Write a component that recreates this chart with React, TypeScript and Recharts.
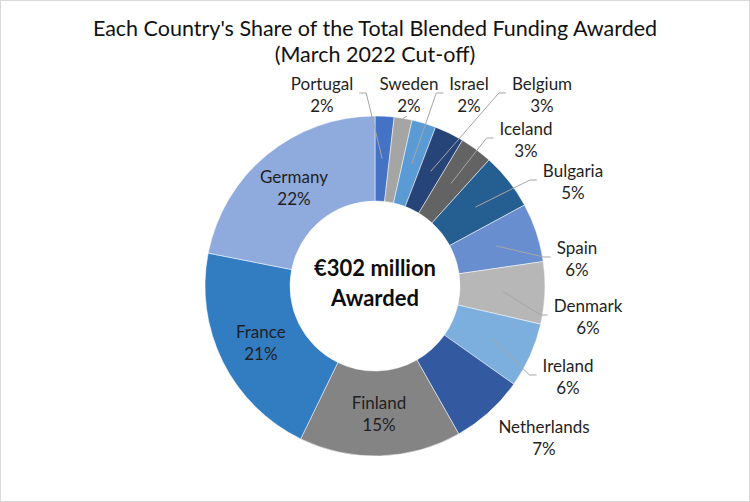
import React from 'react';
import { PieChart, Pie, Cell } from 'recharts';

const countries = ['Portugal', 'Sweden', 'Israel', 'Belgium', 'Iceland', 'Bulgaria', 'Spain', 'Denmark', 'Ireland', 'Netherlands', 'Finland', 'France', 'Germany'];
const shares = [1.8, 1.7, 2.3, 2.8, 3.1, 5.4, 5.6, 5.9, 6.2, 7.0, 15.4, 20.9, 21.9];
const colors = ['#4472C4', '#A5A5A5', '#5B9BD5', '#264478', '#636363', '#255E91', '#698ED0', '#B7B7B7', '#7CAFDD', '#335AA1', '#848484', '#327DC2', '#8FAADC'];
const titleLines = ["Each Country's Share of the Total Blended Funding Awarded", '(March 2022 Cut-off)'];
const centerLines = ['€302 million', 'Awarded'];

// where each data label sits, relative to the pie centre (inside = middle of the ring)
const labelPlacement: any[] = [
  { dx: -53, dy: -192, line: 'right' },
  { dx: 34, dy: -192, line: 'stub' },
  { dx: 94, dy: -192, line: 'left' },
  { dx: 167, dy: -192, line: 'left' },
  { dx: 151, dy: -147, line: 'left' },
  { dx: 198, dy: -105, line: 'left' },
  { dx: 202, dy: -28, line: 'left' },
  { dx: 213, dy: 30, line: 'left' },
  { dx: 193, dy: 90, line: 'left' },
  { dx: 169, dy: 151, line: 'none' },
  { inside: true },
  { inside: true },
  { inside: true },
];

const data = countries.map((name, i) => ({ name, value: shares[i] }));

const FONT = 'Lato, "Open Sans", sans-serif';
const LABEL_SIZE = 17;
const RAD = Math.PI / 180;

let ctx: any = null;
const textWidth = (t: string) => {
  if (!ctx) ctx = document.createElement('canvas').getContext('2d');
  ctx.font = `${LABEL_SIZE}px Lato`;
  return ctx.measureText(t).width;
};

const renderLabel = (props: any) => {
  const { cx, cy, midAngle, innerRadius, outerRadius, percent, index, name } = props;
  const midR = (innerRadius + outerRadius) / 2;
  const ax = cx + midR * Math.cos(-midAngle * RAD);
  const ay = cy + midR * Math.sin(-midAngle * RAD);
  const place = labelPlacement[index];
  const tx = place.inside ? ax : cx + place.dx;
  const ty = place.inside ? ay : cy + place.dy;
  const w = Math.max(textWidth(name), textWidth('00%'));
  let line = null;
  if (place.line === 'left' || place.line === 'right') {
    const edge = place.line === 'left' ? tx - w / 2 - 6 : tx + w / 2 + 6;
    const elbow = place.line === 'left' ? edge - 7 : edge + 7;
    line = <polyline points={`${edge},${ty - 1} ${elbow},${ty - 1} ${ax},${ay}`} fill="none" stroke="#A6A6A6" strokeWidth={1} />;
  } else if (place.line === 'stub') {
    const ox = cx + outerRadius * Math.cos(-midAngle * RAD);
    const oy = cy + outerRadius * Math.sin(-midAngle * RAD);
    line = <line x1={tx - 2} y1={ty + 22} x2={ox} y2={oy} stroke="#A6A6A6" strokeWidth={1} />;
  }
  return (
    <g>
      {line}
      <text x={tx} y={ty} textAnchor="middle" fill="#1f1f1f" fontSize={LABEL_SIZE} fontFamily={FONT}>
        <tspan x={tx} y={ty - 11} dominantBaseline="central">{name}</tspan>
        <tspan x={tx} y={ty + 11} dominantBaseline="central">{`${Math.round(percent * 100)}%`}</tspan>
      </text>
    </g>
  );
};

export default function App() {
  return (
    <div style={{ position: 'absolute', left: 0, top: 0, width: 750, height: 502, background: '#fff', border: '1px solid #D9D9D9', boxSizing: 'border-box' }}>
      <div style={{ position: 'absolute', left: -1, top: -1 }}>
        <PieChart width={750} height={502} margin={{ top: 0, right: 0, bottom: 0, left: 0 }}>
          <Pie
            data={data}
            dataKey="value"
            nameKey="name"
            cx={375}
            cy={286}
            innerRadius={85}
            outerRadius={170}
            startAngle={90}
            endAngle={-270}
            stroke="#fff"
            strokeWidth={0.5}
            label={renderLabel}
            labelLine={false}
            isAnimationActive={false}
          >
            {data.map((d, i) => <Cell key={d.name} fill={colors[i]} />)}
          </Pie>
        </PieChart>
      </div>
      <div style={{ position: 'absolute', left: -1, top: 14, width: 750, textAlign: 'center', fontFamily: FONT, fontSize: 21.5, lineHeight: '26px', color: '#111' }}>
        {titleLines.map((t) => <div key={t}>{t}</div>)}
      </div>
      <div style={{ position: 'absolute', left: -1, top: 252, width: 750, textAlign: 'center', fontFamily: FONT, fontSize: 22, fontWeight: 'bold', lineHeight: '30px', color: '#0d0d0d' }}>
        {centerLines.map((t) => <div key={t}>{t}</div>)}
      </div>
    </div>
  );
}
